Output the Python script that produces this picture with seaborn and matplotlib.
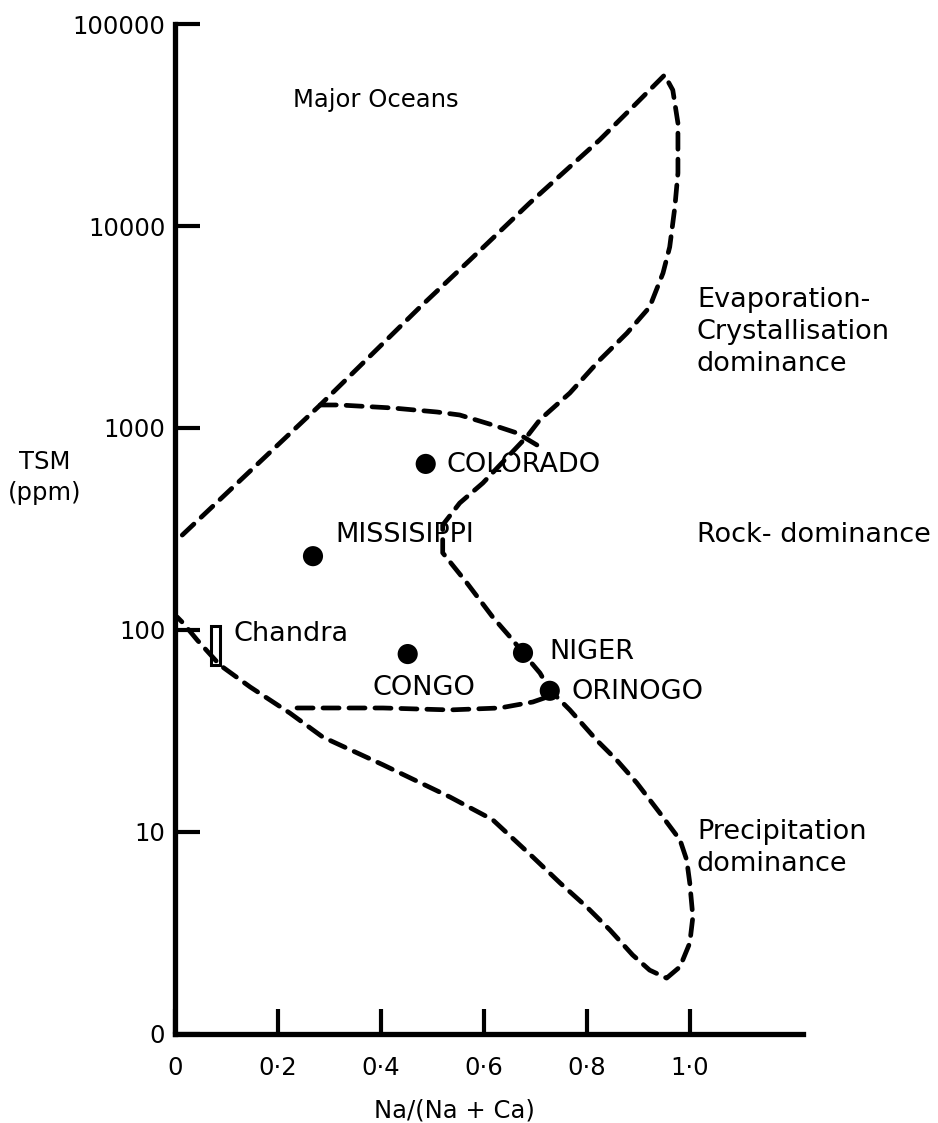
import numpy as np
import pandas as pd
import matplotlib
matplotlib.use("Agg")
import matplotlib.pyplot as plt
from matplotlib.patches import Rectangle
import seaborn as sns

# River samples: Na/(Na+Ca) ratio and total dissolved solids (ppm)
rivers = ["COLORADO", "MISSISIPPI", "CONGO", "NIGER", "ORINOGO"]
river_ratio = [0.487, 0.268, 0.452, 0.676, 0.728]
river_tsm = [664, 232, 76, 77, 50]

# Chandra river range
chandra_ratio = [0.070, 0.088]
chandra_tsm = [67, 105]

# Outer envelope of world surface waters
outer_ratio = [0.014, 0.282, 0.476, 0.573, 0.689, 0.825, 0.889, 0.951, 0.967,
               0.977, 0.977, 0.971, 0.961, 0.948, 0.922, 0.878, 0.825, 0.767,
               0.709, 0.683, 0.598, 0.553, 0.520, 0.520, 0.567, 0.617, 0.656,
               0.676, 0.709, 0.728, 0.767, 0.819, 0.858, 0.897, 0.942, 0.981,
               0.994, 1.000, 1.006, 1.000, 0.981, 0.955, 0.922, 0.889, 0.845,
               0.800, 0.748, 0.695, 0.617, 0.534, 0.404, 0.287, 0.223, 0.146,
               0.087, 0.043, 0.016, 0.004]
outer_tsm = [295, 1300, 3970, 6790, 13000, 26700, 38800, 55900, 47100,
             32300, 18300, 12400, 7870, 5850, 3970, 2950, 2170, 1490,
             1100, 903, 534, 425, 331, 241, 171, 116, 89.2,
             77, 61.2, 50.5, 40.2, 28.5, 22.7, 17.5, 12.4, 9.13,
             7.27, 5.59, 3.80, 2.82, 2.15, 1.89, 2.07, 2.46, 3.27,
             4.25, 5.59, 7.52, 11.5, 14.9, 21.5, 29.5, 38.8, 52.2,
             67.1, 89.2, 108, 116]

# Rock-dominance field, upper and lower limits
rock_upper_ratio = [0.282, 0.320, 0.423, 0.509, 0.553, 0.617, 0.664, 0.703]
rock_upper_tsm = [1300, 1300, 1256, 1200, 1160, 1035, 945, 824]
rock_lower_ratio = [0.237, 0.287, 0.404, 0.534, 0.631, 0.695, 0.718]
rock_lower_tsm = [41.1, 41.1, 41.1, 40.2, 41.1, 44.0, 46.1]

# Axis ticks
x_ticks = [0, 0.2, 0.4, 0.6, 0.8, 1.0]
x_labels = ["0", "0·2", "0·4", "0·6", "0·8", "1·0"]
y_ticks = [1, 10, 100, 1000, 10000, 100000]
y_labels = ["0", "10", "100", "1000", "10000", "100000"]

sns.set_style("ticks")
plt.rcParams["font.family"] = ["DejaVu Sans"]
plt.rcParams["text.color"] = "black"
plt.rcParams["xtick.color"] = "black"
plt.rcParams["ytick.color"] = "black"
plt.rcParams["axes.labelcolor"] = "black"

fig = plt.figure(figsize=(9.38, 11.23), dpi=100)
ax = fig.add_axes([0.1866, 0.0793, 0.6695, 0.8993])
ax.set_yscale("log")

dash = dict(color="black", linewidth=3.4, linestyle=(0, (3.4, 2.1)),
            dash_capstyle="round", sort=False, estimator=None, legend=False)

curves = {
    "outer": (outer_ratio, outer_tsm),
    "rock_upper": (rock_upper_ratio, rock_upper_tsm),
    "rock_lower": (rock_lower_ratio, rock_lower_tsm),
}
for name, (xs, ys) in curves.items():
    df = pd.DataFrame({"ratio": xs, "tsm": ys})
    sns.lineplot(data=df, x="ratio", y="tsm", ax=ax, **dash)

river_df = pd.DataFrame({"river": rivers, "ratio": river_ratio, "tsm": river_tsm})
sns.scatterplot(data=river_df, x="ratio", y="tsm", ax=ax, s=210,
                color="black", edgecolor="none", zorder=5, legend=False)

ax.add_patch(Rectangle((chandra_ratio[0], chandra_tsm[0]),
                       chandra_ratio[1] - chandra_ratio[0],
                       chandra_tsm[1] - chandra_tsm[0],
                       fill=False, edgecolor="black", linewidth=2.2))

fs = 19.5
label_pos = {
    "COLORADO": (0.528, 656),
    "MISSISIPPI": (0.311, 295),
    "CONGO": (0.383, 51.6),
    "NIGER": (0.728, 77.8),
    "ORINOGO": (0.771, 49.3),
}
for name, (lx, ly) in label_pos.items():
    ax.text(lx, ly, name, fontsize=fs, ha="left", va="center")
ax.text(0.113, 95.5, "Chandra", fontsize=fs, ha="left", va="center")
ax.text(0.229, 42000, "Major Oceans", fontsize=17.5, ha="left", va="center")

ax.text(1.014, 2990, "Evaporation-\nCrystallisation\ndominance", fontsize=fs,
        ha="left", va="center", linespacing=1.3, clip_on=False)
ax.text(1.014, 295, "Rock- dominance", fontsize=fs, ha="left", va="center",
        clip_on=False)
ax.text(1.014, 8.3, "Precipitation\ndominance", fontsize=fs, ha="left",
        va="center", linespacing=1.3, clip_on=False)

ax.set_xlim(0, 1.22)
ax.set_ylim(1, 100000)
ax.set_xticks(x_ticks)
ax.set_xticklabels(x_labels, fontsize=17.5)
ax.set_yticks(y_ticks)
ax.set_yticklabels(y_labels, fontsize=17.5)
ax.yaxis.set_minor_locator(matplotlib.ticker.NullLocator())
ax.tick_params(axis="both", direction="in", length=18, width=3, color="black",
               labelcolor="black")
ax.tick_params(axis="x", pad=16)
ax.tick_params(axis="y", pad=7)
ax.set_xlabel("")
ax.set_ylabel("")

for side in ["top", "right"]:
    ax.spines[side].set_visible(False)
for side in ["left", "bottom"]:
    ax.spines[side].set_linewidth(3.8)
    ax.spines[side].set_color("black")

fig.text(0.048, 0.575, "TSM\n(ppm)", fontsize=17.5, ha="center", va="center",
         linespacing=1.35)
fig.text(0.485, 0.011, "Na/(Na + Ca)", fontsize=17.5, ha="center", va="center")

fig.savefig("out.png", dpi=100, facecolor="white")
